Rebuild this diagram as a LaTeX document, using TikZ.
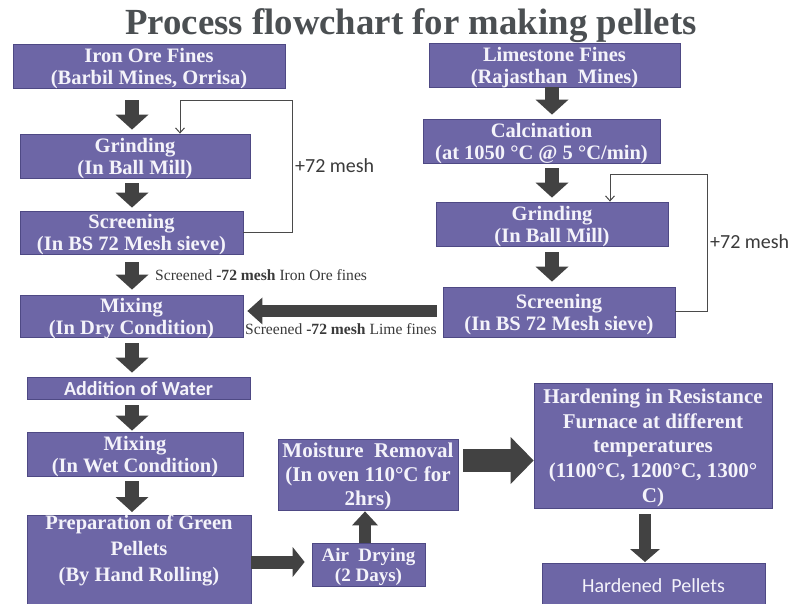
\documentclass[tikz,border=0pt]{standalone}
\usepackage{fontspec}
\setmainfont{Liberation Serif}
\newfontfamily\calsans{Carlito}
\usetikzlibrary{arrows.meta}

\definecolor{boxfill}{HTML}{6D66A6}
\definecolor{boxline}{HTML}{4E4984}
\definecolor{boxtext}{HTML}{F4F3FA}
\definecolor{arrowgray}{HTML}{424242}
\definecolor{titlegray}{HTML}{4B4F52}
\definecolor{linegray}{HTML}{4A4A4A}
\definecolor{labelgray}{HTML}{3A3A3A}

\begin{document}
\begin{tikzpicture}[x=1pt,y=-1pt,
  box/.style={draw=boxline, line width=0.8pt, fill=boxfill, text=boxtext,
    inner sep=0pt, align=center, text depth=0pt,
    font=\fontsize{20.5}{22}\selectfont\bfseries},
  boxlabel/.style={text=boxtext, inner sep=0pt, align=center},
  titletext/.style={text=titlegray, inner sep=0pt, font=\fontsize{36.8}{40}\selectfont\bfseries},
  meshlabel/.style={text=labelgray, inner sep=0pt, font=\calsans\fontsize{20}{22}\selectfont},
  finelabel/.style={text=labelgray, inner sep=0pt, font=\fontsize{15.6}{18}\selectfont},
  fatdown/.style={color=arrowgray, line width=14pt,
    -{Triangle[width=33pt,length=15pt,line width=0pt]}},
  fatleft/.style={color=arrowgray, line width=12pt,
    -{Triangle[width=27pt,length=15pt,line width=0pt]}},
  fatright/.style={color=arrowgray, line width=13pt,
    -{Triangle[width=30pt,length=12pt,line width=0pt]}},
  fatup/.style={color=arrowgray, line width=12pt,
    -{Triangle[width=26pt,length=14pt,line width=0pt]}},
  hugeright/.style={color=arrowgray, line width=23pt,
    -{Triangle[width=47pt,length=23pt,line width=0pt]}},
  slimdown/.style={color=arrowgray, line width=12pt,
    -{Triangle[width=30pt,length=13pt,line width=0pt]}},
  feedback/.style={draw=linegray, line width=1pt,
    -{Straight Barb[length=5pt,width=9pt]}}
]
\useasboundingbox (0,0) rectangle (796,604);

% ---- iron ore column ----
\node[box, minimum width=272pt, minimum height=44pt] (iron) at (149,66)
  {Iron Ore Fines\\(Barbil Mines, Orrisa)};
\node[box, minimum width=230pt, minimum height=44pt] (grind1) at (135,156)
  {Grinding\\(In Ball Mill)};
\node[box, minimum width=223pt, minimum height=43pt] (screen1) at (131.5,232.5)
  {Screening\\(In BS 72 Mesh sieve)};
\node[box, minimum width=223pt, minimum height=42pt] (mix1) at (131.5,316)
  {Mixing\\(In Dry Condition)};
\node[box, minimum width=223pt, minimum height=22pt,
  font=\calsans\fontsize{20}{22}\selectfont\bfseries] (water) at (138.5,388)
  {Addition of Water};
\node[box, minimum width=216pt, minimum height=44pt] (wet) at (135,454)
  {Mixing\\(In Wet Condition)};
\node[box, anchor=north, minimum width=224pt, minimum height=100pt] (prep) at (139,515) {};
\node[boxlabel, anchor=north, font=\fontsize{20.5}{26}\selectfont\bfseries] (preptext)
  at (prep.north) {Preparation of Green\\Pellets\\(By Hand Rolling)};

% ---- limestone column ----
\node[box, minimum width=251pt, minimum height=44pt] (lime) at (554.5,65)
  {Limestone Fines\\(Rajasthan~~Mines)};
\node[box, minimum width=237pt, minimum height=44pt] (calc) at (541.5,141)
  {Calcination\\(at 1050 °C @ 5 °C/min)};
\node[box, minimum width=232pt, minimum height=44pt] (grind2) at (552,224)
  {Grinding\\(In Ball Mill)};
\node[box, minimum width=232pt, minimum height=50pt] (screen2) at (559,312)
  {Screening\\(In BS 72 Mesh sieve)};

% ---- drying and hardening ----
\node[box, minimum width=113pt, minimum height=43pt,
  font=\fontsize{19}{20}\selectfont\bfseries] (air) at (368.5,564.5)
  {Air~~Drying\\(2 Days)};
\node[box, minimum width=180pt, minimum height=71pt,
  font=\fontsize{21}{24}\selectfont\bfseries] (moist) at (368,474.5)
  {Moisture\hspace{0.5em}Removal\\(In oven 110°C for\\2hrs)};
\node[box, minimum width=238pt, minimum height=125pt,
  font=\fontsize{21}{24.75}\selectfont\bfseries] (harden) at (653,445.5)
  {Hardening in Resistance\\Furnace at different\\temperatures\\(1100°C, 1200°C, 1300°\\C)};
\node[box, anchor=north, minimum width=223pt, minimum height=50pt] (hardened) at (653.5,563) {};
\node[boxlabel, anchor=base, font=\calsans\fontsize{20}{22}\selectfont] (hardenedtext)
  at ([yshift=-29pt]hardened.north) {Hardened~~Pellets};

% ---- guide coordinates for the arrow lines ----
\coordinate (colL) at (132,0);
\coordinate (colR) at (552,0);
\coordinate (rowMix) at (0,311);
\coordinate (rowAir) at (0,562);
\coordinate (colAir) at (365,0);
\coordinate (rowHard) at (0,460.5);
\coordinate (colH) at (645,0);

% ---- main flow arrows ----
\draw[fatdown, shorten <=12pt, shorten >=4pt] (iron.south -| colL) -- (grind1.north -| colL);
\draw[fatdown, shorten <=5pt, shorten >=3pt] (grind1.south -| colL) -- (screen1.north -| colL);
\draw[fatdown, shorten <=8pt, shorten >=5pt] (screen1.south -| colL) -- (mix1.north -| colL);
\draw[fatdown, shorten <=6pt, shorten >=4pt] (mix1.south -| colL) -- (water.north -| colL);
\draw[fatdown, shorten <=6pt, shorten >=1pt] (water.south -| colL) -- (wet.north -| colL);
\draw[fatdown, shorten <=5pt, shorten >=3pt] (wet.south -| colL) -- (prep.north -| colL);

\draw[fatdown, shorten >=4pt] (lime.south -| colR) -- (calc.north -| colR);
\draw[fatdown, shorten <=5pt, shorten >=4pt] (calc.south -| colR) -- (grind2.north -| colR);
\draw[fatdown, shorten <=6pt, shorten >=5pt] (grind2.south -| colR) -- (screen2.north -| colR);

\draw[fatleft, shorten <=6pt, shorten >=4pt] (screen2.west |- rowMix) -- (mix1.east |- rowMix);
\draw[fatright, shorten >=7pt] (prep.east |- rowAir) -- (air.west |- rowAir);
\draw[fatup, shorten >=1pt] (air.north -| colAir) -- (moist.south -| colAir);
\draw[hugeright, shorten <=5pt] (moist.east |- rowHard) -- (harden.west |- rowHard);
\draw[slimdown, shorten <=6pt, shorten >=1pt] (harden.south -| colH) -- (hardened.north -| colH);

% ---- +72 mesh return loops ----
\coordinate (fbL) at (292,101);
\coordinate (fbLin) at (180,0);
\draw[feedback] (screen1.east) -| (fbL) -| (grind1.north -| fbLin);
\coordinate (fbR) at (707,175);
\coordinate (fbRin) at (610,0);
\draw[feedback] (screen2.east) -| (fbR) -| (grind2.north -| fbRin);
\node[meshlabel, anchor=west] (meshL) at (295,166) {+72 mesh};
\node[meshlabel, anchor=west] (meshR) at (710,242) {+72 mesh};

% ---- stream labels ----
\node[finelabel, anchor=base west] (ironfines) at (155,281)
  {Screened \textbf{-72 mesh} Iron Ore fines};
\node[finelabel, anchor=base west] (limefines) at (245,335)
  {Screened \textbf{-72 mesh} Lime fines};

% ---- heading ----
\node[titletext, anchor=base] (title) at (411,35) {Process flowchart for making pellets};
\end{tikzpicture}
\end{document}
